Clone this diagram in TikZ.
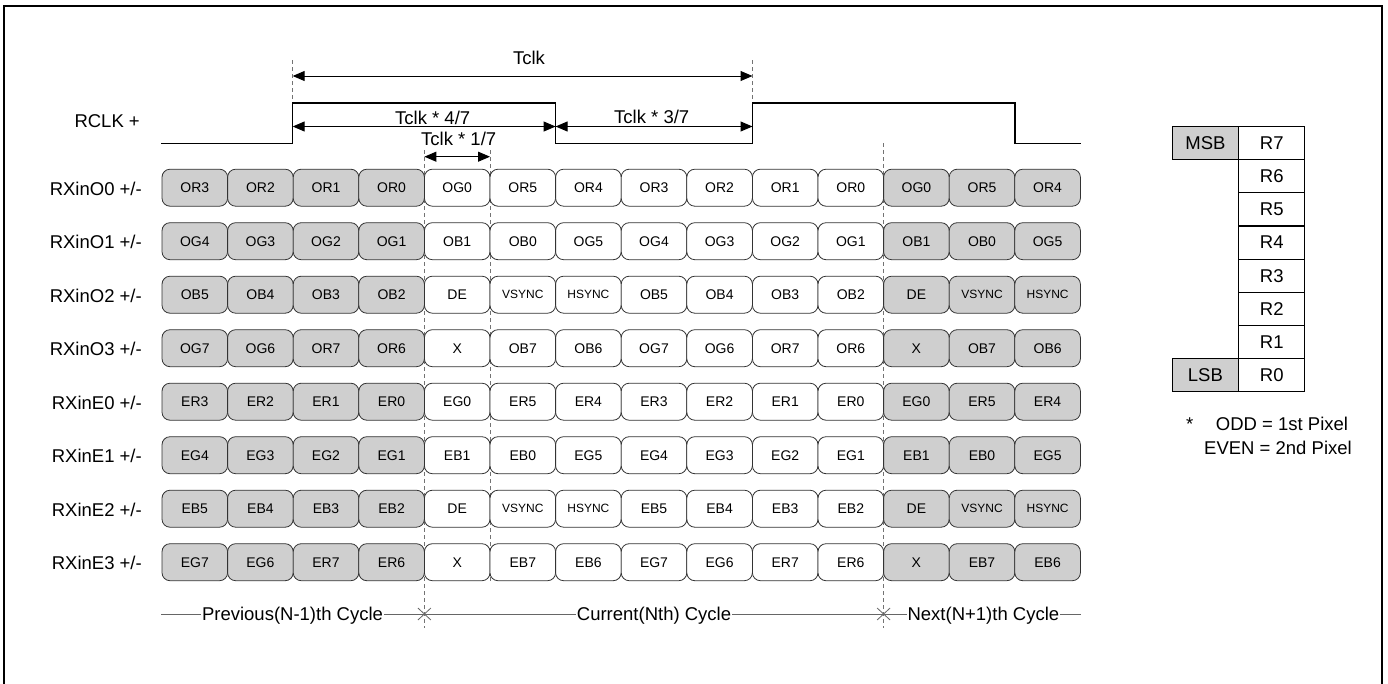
\documentclass[tikz,border=0pt]{standalone}
\usepackage{fontspec}
\setmainfont{Liberation Sans}
\usetikzlibrary{arrows.meta}
\newcommand\smallsync{\fontsize{12}{12}\selectfont}
\begin{document}
\begin{tikzpicture}[x=1pt,y=-1pt,
  lbl/.style={font=\fontsize{18.5}{20}\selectfont, inner sep=0pt},
  cellbox/.style={draw=black!80, line width=0.8pt, rounded corners=8pt, minimum width=65.6pt, minimum height=37pt, inner sep=0pt, font=\fontsize{14}{14}\selectfont},
  tbl/.style={draw=black, line width=1.1pt, minimum width=66.3pt, minimum height=33.1pt, inner sep=0pt, font=\fontsize{18.5}{20}\selectfont},
  dimarrow/.style={{Triangle[length=12pt,width=10pt]}-{Triangle[length=12pt,width=10pt]}, line width=1pt},
  guide/.style={draw=black!55, line width=0.8pt, dash pattern=on 4pt off 3pt},
  clk/.style={line width=1.4pt, black},
  cyc/.style={draw=black!60, line width=0.8pt},
]
\useasboundingbox (0,0) rectangle (1388,683);
% frame
\draw[line width=1.8pt] (4.3,5.8) rectangle (1382.3,688);

% guide lines
\coordinate (g1t) at (292.7,60);  \coordinate (g1b) at (292.7,103);
\coordinate (g2t) at (752.5,60);  \coordinate (g2b) at (752.5,103);
\coordinate (g3t) at (424.4,150); \coordinate (g3b) at (424.4,628);
\coordinate (g4t) at (490,150);   \coordinate (g4b) at (490,581);
\coordinate (g5t) at (883.6,143); \coordinate (g5b) at (883.6,628);
\foreach \g in {1,...,5} \draw[guide] (g\g t) -- (g\g b);

% clock
\node[lbl, anchor=base east] (rclk) at (140,127.7) {RCLK +};
\draw[clk] (161,143.3) -- (292.7,143.3) -- (292.7,103) -- (555.6,103) -- (555.6,143.3)
  -- (752.5,143.3) -- (752.5,103) -- (1014.8,103) -- (1014.8,143.3) -- (1081,143.3);

% dimension arrows
\coordinate (a1) at (292.7,76);  \coordinate (a2) at (752.5,76);
\coordinate (b1) at (292.7,126.5); \coordinate (b2) at (555.6,126.5); \coordinate (b3) at (752.5,126.5);
\coordinate (d1) at (424.4,156.7); \coordinate (d2) at (490,156.7);
\draw[dimarrow] (a1) -- (a2);
\draw[dimarrow] (b1) -- (b2);
\draw[dimarrow] (b2) -- (b3);
\draw[dimarrow] (d1) -- (d2);
\node[lbl, anchor=base] (tclk) at (529,64) {Tclk};
\node[lbl, anchor=base] (t47) at (432.7,124) {Tclk * 4/7};
\node[lbl, anchor=base] (t37) at (651.7,123.3) {Tclk * 3/7};
\node[lbl, anchor=base] (t17) at (458.7,145.7) {Tclk * 1/7};

% data rows
\foreach \r/\name/\cells in {
 0/RXinO0/{OR3,OR2,OR1,OR0,OG0,OR5,OR4,OR3,OR2,OR1,OR0,OG0,OR5,OR4},
 1/RXinO1/{OG4,OG3,OG2,OG1,OB1,OB0,OG5,OG4,OG3,OG2,OG1,OB1,OB0,OG5},
 2/RXinO2/{OB5,OB4,OB3,OB2,DE,\smallsync VSYNC,\smallsync HSYNC,OB5,OB4,OB3,OB2,DE,\smallsync VSYNC,\smallsync HSYNC},
 3/RXinO3/{OG7,OG6,OR7,OR6,X,OB7,OB6,OG7,OG6,OR7,OR6,X,OB7,OB6},
 4/RXinE0/{ER3,ER2,ER1,ER0,EG0,ER5,ER4,ER3,ER2,ER1,ER0,EG0,ER5,ER4},
 5/RXinE1/{EG4,EG3,EG2,EG1,EB1,EB0,EG5,EG4,EG3,EG2,EG1,EB1,EB0,EG5},
 6/RXinE2/{EB5,EB4,EB3,EB2,DE,\smallsync VSYNC,\smallsync HSYNC,EB5,EB4,EB3,EB2,DE,\smallsync VSYNC,\smallsync HSYNC},
 7/RXinE3/{EG7,EG6,ER7,ER6,X,EB7,EB6,EG7,EG6,ER7,ER6,X,EB7,EB6}}{
  \node[lbl, anchor=base east] (lab\r) at (142,{187.7+53.5*\r+7.3}) {\name\ +/-};
  \foreach \t [count=\k from 0] in \cells {
    \ifnum\k<4 \def\fc{black!19}\else\ifnum\k>10 \def\fc{black!19}\else\def\fc{white}\fi\fi
    \node[cellbox, fill=\fc] (c\r-\k) at ({194.8+65.6*\k},{187.7+53.5*\r}) {\t};
  }
}

% cycle line
\coordinate (cs) at (161,614); \coordinate (ce) at (1081,614);
\coordinate (x1) at (424.4,614); \coordinate (x2) at (883.6,614);
\draw[cyc] (cs) -- (ce);
\foreach \x in {x1,x2}
  \draw[cyc] ([shift={(-6.5,-6)}]\x) -- ([shift={(6.5,6)}]\x)
             ([shift={(-6.5,6)}]\x) -- ([shift={(6.5,-6)}]\x);
\node[lbl, anchor=base, fill=white, inner xsep=1pt, inner ysep=1pt] (prev) at (292.5,620.7) {Previous(N-1)th Cycle};
\node[lbl, anchor=base, fill=white, inner xsep=1pt, inner ysep=1pt] (curr) at (654,620.7) {Current(Nth) Cycle};
\node[lbl, anchor=base, fill=white, inner xsep=1pt, inner ysep=1pt] (next) at (983.4,620.7) {Next(N+1)th Cycle};

% bit table
\foreach \b [count=\i from 0] in {7,6,5,4,3,2,1,0}
  \node[tbl] (r\b) at (1271.7,{143.25+33.1*\i}) {R\b};
\node[tbl, fill=black!19] (msb) at (1205.4,143.25) {MSB};
\node[tbl, fill=black!19] (lsb) at (1205.4,{143.25+33.1*7}) {LSB};

% note
\node[lbl, anchor=base west] (star) at (1186,430) {*};
\node[lbl, anchor=base west] (odd) at (1215.7,430) {ODD = 1st Pixel};
\node[lbl, anchor=base west] (even) at (1204,454) {EVEN = 2nd Pixel};
\end{tikzpicture}
\end{document}
